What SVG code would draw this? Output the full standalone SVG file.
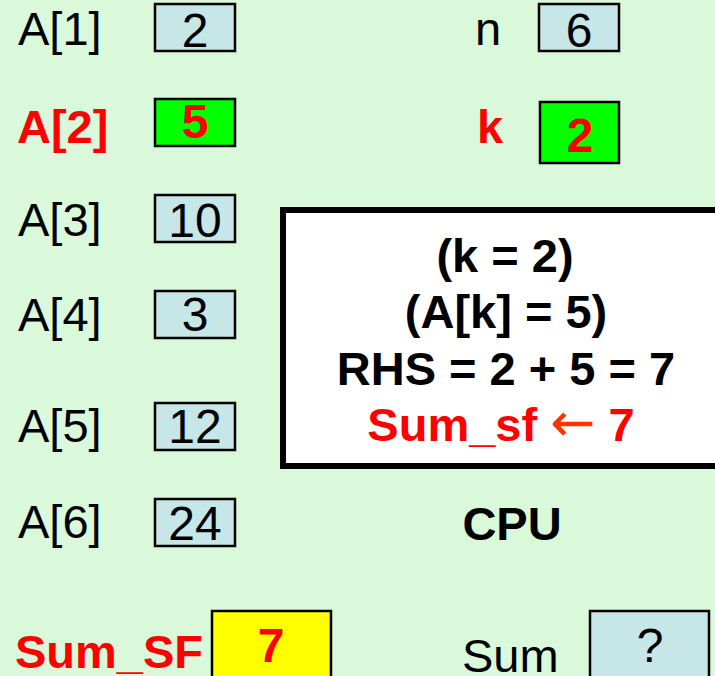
<svg xmlns="http://www.w3.org/2000/svg" width="715" height="676" viewBox="0 0 715 676">
  <style>
    .lbl { font-family: "Liberation Sans", Arial, sans-serif; font-size: 47px; fill: #000; }
    .val { font-family: "Liberation Sans", Arial, sans-serif; font-size: 48px; text-anchor: middle; fill: #000; }
    .cpu { font-family: "Liberation Sans", Arial, sans-serif; font-size: 47px; font-weight: bold; text-anchor: middle; fill: #000; }
    .red { fill: #FF0000; font-weight: bold; }
    .cell { stroke: #000; stroke-width: 2.5; }
    .blue { fill: #C6E6E8; }
    .green { fill: #00FF00; }
    .yellow { fill: #FFFF00; }
    .arrow { fill: #FF3300; font-family: "DejaVu Sans", sans-serif; font-weight: normal; font-size: 54px; }
  </style>
  <rect x="0" y="0" width="715" height="676" fill="#DAF8DA"/>

  <!-- array A -->
  <g id="a1">
    <text class="lbl" x="18" y="45">A[1]</text>
    <rect class="cell blue" x="155" y="4" width="80" height="47"/>
    <text class="val" x="195" y="47">2</text>
  </g>
  <g id="a2">
    <text class="lbl red" x="17" y="143">A[2]</text>
    <rect class="cell green" x="155" y="99" width="80" height="47"/>
    <text class="val red" x="195" y="138">5</text>
  </g>
  <g id="a3">
    <text class="lbl" x="18" y="236">A[3]</text>
    <rect class="cell blue" x="155" y="195" width="80" height="47"/>
    <text class="val" x="195" y="237">10</text>
  </g>
  <g id="a4">
    <text class="lbl" x="18" y="331">A[4]</text>
    <rect class="cell blue" x="155" y="291" width="80" height="47"/>
    <text class="val" x="195" y="331">3</text>
  </g>
  <g id="a5">
    <text class="lbl" x="18" y="442">A[5]</text>
    <rect class="cell blue" x="155" y="403" width="80" height="47"/>
    <text class="val" x="195" y="443">12</text>
  </g>
  <g id="a6">
    <text class="lbl" x="18" y="538">A[6]</text>
    <rect class="cell blue" x="155" y="499" width="80" height="47"/>
    <text class="val" x="195" y="540">24</text>
  </g>

  <!-- scalar variables -->
  <g id="n">
    <text class="lbl" x="475" y="45">n</text>
    <rect class="cell blue" x="539" y="4" width="80" height="47"/>
    <text class="val" x="579" y="47">6</text>
  </g>
  <g id="k">
    <text class="lbl red" x="477" y="143">k</text>
    <rect class="cell green" x="540" y="102" width="79" height="61"/>
    <text class="val red" x="580" y="152">2</text>
  </g>

  <!-- CPU working box -->
  <g id="cpu-box">
    <rect x="283" y="210" width="450" height="256" fill="#FFFFFF" stroke="#000" stroke-width="6"/>
    <text class="cpu" x="505" y="272">(k = 2)</text>
    <text class="cpu" x="506" y="328">(A[k] = 5)</text>
    <text class="cpu" x="506" y="385">RHS = 2 + 5 = 7</text>
    <text class="cpu red" x="501" y="441">Sum_sf <tspan class="arrow">←</tspan> 7</text>
  </g>
  <g id="cpu-label">
    <text class="cpu" x="512" y="540">CPU</text>
  </g>

  <!-- sums -->
  <g id="sum-sf">
    <text class="lbl red" x="15" y="668">Sum_SF</text>
    <rect class="cell yellow" x="212" y="611" width="119" height="70"/>
    <text class="val red" x="271" y="662">7</text>
  </g>
  <g id="sum">
    <text class="lbl" x="462" y="672">Sum</text>
    <rect class="cell blue" x="590" y="611" width="119" height="70"/>
    <text class="val" x="650" y="662">?</text>
  </g>
</svg>
